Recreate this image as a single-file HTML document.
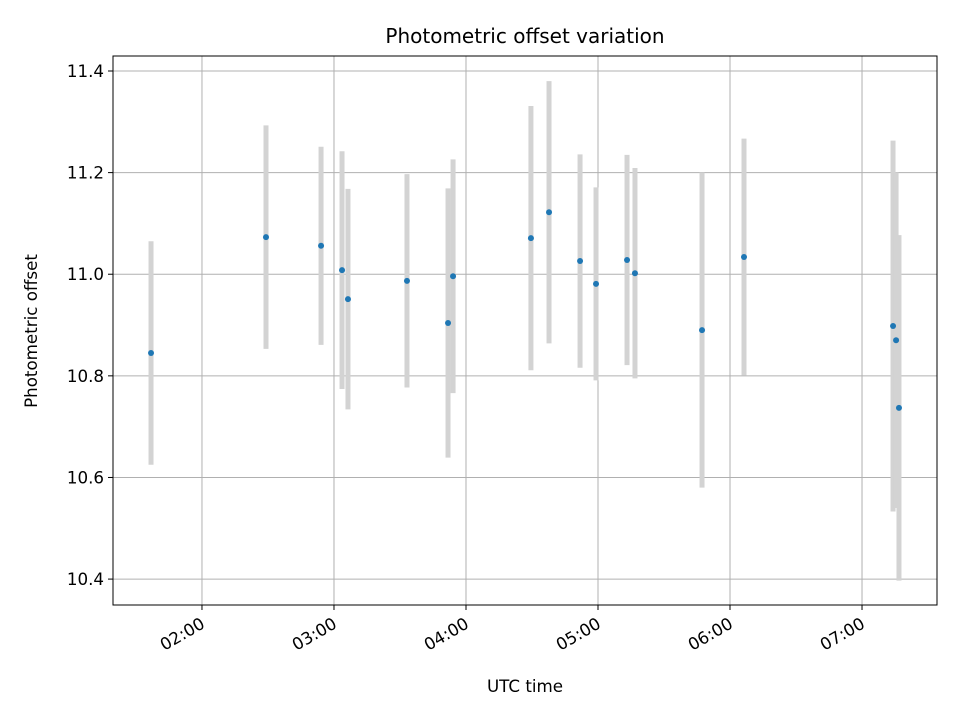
<!DOCTYPE html>
<html><head><meta charset="utf-8"><style>
body{margin:0;background:#fff;font-family:"Liberation Sans","DejaVu Sans",sans-serif}
svg text{font-family:"DejaVu Sans","Liberation Sans",sans-serif;fill:#000}
</style></head><body>
<svg id="chart" width="960" height="720" xmlns="http://www.w3.org/2000/svg">
<rect width="960" height="720" fill="#fff"/>
<g id="grid"></g><g id="bars"></g><g id="pts"></g><g id="axes"></g>
<text x="525" y="43" font-size="20" text-anchor="middle">Photometric offset variation</text>
<text x="525" y="692" font-size="16.7" text-anchor="middle">UTC time</text>
<text transform="translate(37,331) rotate(-90)" font-size="16.7" text-anchor="middle">Photometric offset</text>
</svg>
<script>
const times=[1.614,2.485,2.902,3.061,3.106,3.553,3.864,3.902,4.492,4.629,4.864,4.985,5.220,5.280,5.788,6.106,7.235,7.258,7.280];
const values=[10.845,11.073,11.056,11.008,10.951,10.987,10.904,10.996,11.071,11.122,11.026,10.981,11.028,11.002,10.890,11.034,10.898,10.870,10.737];
const errors=[0.22,0.22,0.195,0.234,0.217,0.21,0.265,0.23,0.26,0.258,0.21,0.19,0.207,0.207,0.31,0.233,0.365,0.33,0.34];
const xTicks=[2,3,4,5,6,7];
const xTickLabels=["02:00","03:00","04:00","05:00","06:00","07:00"];
const yTicks=[10.4,10.6,10.8,11.0,11.2,11.4];
const yTickLabels=["10.4","10.6","10.8","11.0","11.2","11.4"];
const L=113,R=937,T=56,B=605;
const x0=1.326,x1=7.568,y0=10.349,y1=11.4295;
const X=t=>L+(t-x0)/(x1-x0)*(R-L);
const Y=v=>B-(v-y0)/(y1-y0)*(B-T);
const NS="http://www.w3.org/2000/svg";
function mk(tag,attrs,parent){const e=document.createElementNS(NS,tag);for(const k in attrs)e.setAttribute(k,attrs[k]);document.getElementById(parent).appendChild(e);return e;}
xTicks.forEach((t,i)=>{const x=X(t);
 const g=mk('line',{x1:x,x2:x,y1:T,y2:B,stroke:'#b0b0b0','stroke-width':1},'grid');
 
 
 const tk=mk('line',{x1:x,x2:x,y1:B,y2:B+5,stroke:'#000','stroke-width':1},'axes');
 
 
 const tx=mk('text',{transform:`translate(${x+4},${B+22}) rotate(-30)`,'text-anchor':'end','font-size':16.7},'axes');
 tx.textContent=xTickLabels[i];
 
 
});
yTicks.forEach((v,i)=>{const y=Y(v);
 const g=mk('line',{x1:L,x2:R,y1:y,y2:y,stroke:'#b0b0b0','stroke-width':1},'grid');
 
 
 const tk=mk('line',{x1:L-5,x2:L,y1:y,y2:y,stroke:'#000','stroke-width':1},'axes');
 
 
 const tx=mk('text',{x:L-9,y:y+6,'text-anchor':'end','font-size':16.7},'axes');
 tx.textContent=yTickLabels[i];
 
 
});
const fr=mk('rect',{x:L,y:T,width:R-L,height:B-T,fill:'none',stroke:'#000','stroke-width':1},'axes');


times.forEach((t,i)=>{const x=X(t);
 const b=mk('line',{x1:x,x2:x,y1:Y(values[i]+errors[i]),y2:Y(values[i]-errors[i]),stroke:'#d3d3d3','stroke-width':5},'bars');
 
 
 const p=mk('circle',{cx:x,cy:Y(values[i]),r:3,fill:'#1f77b4'},'pts');
 
 
});
</script>
</body></html>
